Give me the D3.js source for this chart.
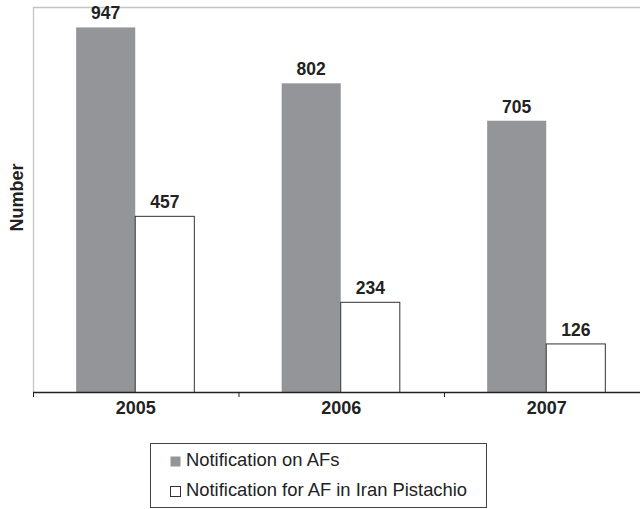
<!DOCTYPE html>
<html>
<head>
<meta charset="utf-8">
<script src="https://cdn.jsdelivr.net/npm/d3@7"></script>
<style>
  html, body { margin: 0; padding: 0; background: #fff; }
  svg { display: block; font-family: "Liberation Sans", Arial, sans-serif; }
</style>
</head>
<body>
<svg id="chart" width="640" height="509"></svg>
<script>
// Notifications per year
const years = ["2005", "2006", "2007"];
const seriesNames = ["Notification on AFs", "Notification for AF in Iran Pistachio"];
const afsValues = [947, 802, 705];
const pistachioValues = [457, 234, 126];
const seriesColors = ["#939598", "#ffffff"];

const rows = years.map((yr, i) => ({
  year: yr,
  values: [
    { key: seriesNames[0], value: afsValues[i] },
    { key: seriesNames[1], value: pistachioValues[i] }
  ]
}));

const svg = d3.select("#chart");
const plot = { left: 33, right: 649.5, top: 7, bottom: 392.5 };

const x0 = d3.scaleBand().domain(years).range([plot.left, plot.right]).padding(0);
const bw = x0.bandwidth();
const x1 = d3.scaleBand().domain(seriesNames).range([bw * 0.21, bw * 0.785]).padding(0);
const y = d3.scaleLinear().domain([0, 1000]).range([plot.bottom, plot.top]);
const color = d3.scaleOrdinal().domain(seriesNames).range(seriesColors);

// plot frame (top and left)
svg.append("path")
  .attr("d", `M${plot.left + 0.5},${plot.bottom} V${plot.top + 0.5} H${plot.right}`)
  .attr("fill", "none").attr("stroke", "#c4c4c4").attr("stroke-width", 1.3);

// bars
const groups = svg.append("g").selectAll("g").data(rows).join("g")
  .attr("transform", d => `translate(${x0(d.year)},0)`);

groups.selectAll("rect").data(d => d.values).join("rect")
  .attr("x", d => x1(d.key))
  .attr("y", d => y(d.value))
  .attr("width", x1.bandwidth())
  .attr("height", d => y(0) - y(d.value))
  .attr("fill", d => color(d.key))
  .attr("stroke", d => d.key === seriesNames[0] ? "none" : "#333")
  .attr("stroke-width", 1);

// value labels
groups.selectAll("text").data(d => d.values).join("text")
  .attr("x", d => x1(d.key) + x1.bandwidth() / 2)
  .attr("y", d => y(d.value) - 8)
  .attr("text-anchor", "middle")
  .attr("font-size", 17.5).attr("font-weight", "bold").attr("fill", "#222")
  .text(d => d.value);

// x axis: category labels
const xAxis = svg.append("g")
  .attr("transform", `translate(0,${plot.bottom})`)
  .call(d3.axisBottom(x0).tickSize(0).tickPadding(9));
xAxis.select(".domain").remove();
xAxis.selectAll("text")
  .attr("font-size", 18).attr("font-weight", "bold").attr("fill", "#222")
  .attr("font-family", "Liberation Sans, Arial, sans-serif");

// axis line and boundary ticks
svg.append("line")
  .attr("x1", plot.left).attr("x2", plot.right)
  .attr("y1", plot.bottom).attr("y2", plot.bottom)
  .attr("stroke", "#222").attr("stroke-width", 1.3);
const edges = years.map(d => x0(d)).concat([plot.right]);
svg.append("g").selectAll("line").data(edges).join("line")
  .attr("x1", d => d + 0.5).attr("x2", d => d + 0.5)
  .attr("y1", plot.bottom).attr("y2", plot.bottom + 4.5)
  .attr("stroke", "#222").attr("stroke-width", 1);

// y axis title
svg.append("text")
  .attr("transform", `translate(${23},${197.5}) rotate(-90)`)
  .attr("text-anchor", "middle")
  .attr("font-size", 18).attr("font-weight", "bold").attr("fill", "#222")
  .text("Number");

// legend
const legend = svg.append("g");
legend.append("rect")
  .attr("x", 150.5).attr("y", 443.5).attr("width", 336).attr("height", 64)
  .attr("fill", "#fff").attr("stroke", "#444").attr("stroke-width", 1);
const items = legend.selectAll("g").data(seriesNames).join("g")
  .attr("transform", (d, i) => `translate(170,${466 + i * 30})`);
items.append("rect")
  .attr("x", 0.5).attr("y", -9.5).attr("width", 10).attr("height", 10)
  .attr("fill", d => color(d))
  .attr("stroke", (d, i) => i === 0 ? "none" : "#333");
items.append("text")
  .attr("x", 16).attr("y", 0)
  .attr("font-size", 18.4).attr("fill", "#222")
  .text(d => d);
</script>
</body>
</html>
